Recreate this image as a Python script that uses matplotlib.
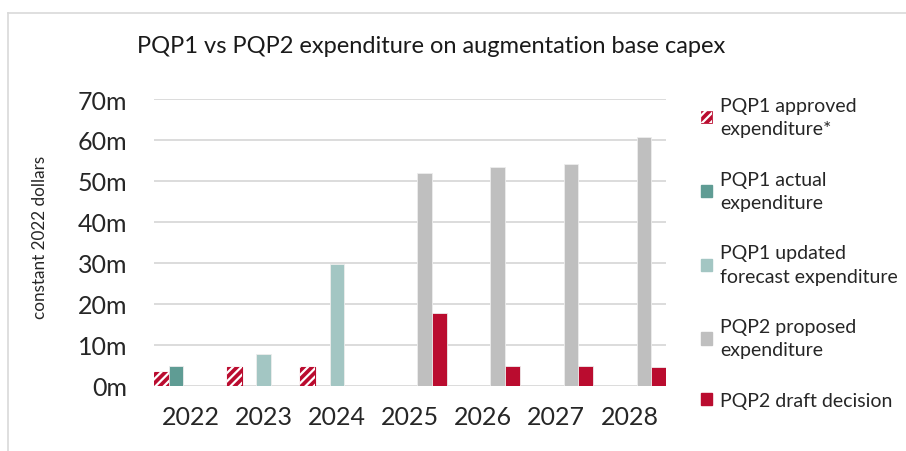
import matplotlib.pyplot as plt
import matplotlib.patches as mpatches
from matplotlib.legend_handler import HandlerTuple
import numpy as np

plt.rcParams['font.family'] = ['Lato', 'DejaVu Sans']
plt.rcParams['hatch.linewidth'] = 1.6

years = ['2022', '2023', '2024', '2025', '2026', '2027', '2028']
nan = np.nan
approved = [3.4, 4.5, 4.5, nan, nan, nan, nan]
actual = [4.7, nan, nan, nan, nan, nan, nan]
updated = [nan, 7.7, 29.8, nan, nan, nan, nan]
proposed = [nan, nan, nan, 52.0, 53.5, 54.1, 60.6]
draft = [nan, nan, nan, 17.8, 4.9, 4.9, 4.6]

red = '#BA0C2F'
teal = '#5F9C94'
lteal = '#A3C6C3'
grey = '#BFBFBF'

fig = plt.figure(figsize=(9.06, 4.52), dpi=100)
ax = fig.add_axes([154/906, 1-386.7/452, (666-154)/906, (386.7-100)/452])

x = np.arange(len(years))
w = 0.2

# hatched approved bars: red fill, white stripes on top
ax.bar(x - 2*w, approved, w, color=red, edgecolor=red, linewidth=0.8, zorder=2)
ax.bar(x - 2*w, approved, w, color='none', edgecolor='white', hatch='////', linewidth=0, zorder=3)
ax.bar(x - w, actual, w, color=teal, edgecolor='#EDEDED', linewidth=0.6, zorder=2)
ax.bar(x, updated, w, color=lteal, edgecolor='#EDEDED', linewidth=0.6, zorder=2)
ax.bar(x + w, proposed, w, color=grey, edgecolor='#EDEDED', linewidth=0.6, zorder=2)
ax.bar(x + 2*w, draft, w, color=red, edgecolor='#EDEDED', linewidth=0.6, zorder=2)

ax.set_xlim(-0.5, 6.5)
ax.set_ylim(0, 70)
ax.set_yticks(range(0, 71, 10))
ax.set_yticklabels([f'{v}m' for v in range(0, 71, 10)])
ax.set_xticks(x)
ax.set_xticklabels(years)
ax.tick_params(axis='y', length=0, pad=19, labelsize=18, labelcolor='#262626')
ax.tick_params(axis='x', length=0, pad=14, labelsize=18, labelcolor='#262626')
ax.grid(axis='y', color='#D9D9D9', linewidth=1.3, zorder=0)
ax.set_axisbelow(True)
for s in ax.spines.values():
    s.set_visible(False)

ax.set_ylabel('constant 2022 dollars', fontsize=12.3, color='#262626')
ax.yaxis.set_label_coords(-0.207, 0.522)

fig.text(0.476, 0.898, 'PQP1 vs PQP2 expenditure on augmentation base capex',
         ha='center', va='center', fontsize=17.0, color='#1a1a1a')

# legend
h_app = (mpatches.Patch(facecolor=red, edgecolor=red, linewidth=0.5),
         mpatches.Patch(facecolor='none', edgecolor='white', hatch='////', linewidth=0))
handles = [h_app,
           mpatches.Patch(color=teal),
           mpatches.Patch(color=lteal),
           mpatches.Patch(color=grey),
           mpatches.Patch(color=red)]
labels = ['PQP1 approved\nexpenditure*', 'PQP1 actual\nexpenditure',
          'PQP1 updated\nforecast expenditure', 'PQP2 proposed\nexpenditure',
          'PQP2 draft decision']
leg = fig.legend(handles, labels, loc='upper left', bbox_to_anchor=(0.754, 0.822),
                 frameon=False, fontsize=14, handlelength=0.6, handleheight=0.6,
                 handletextpad=0.4, labelspacing=1.72, labelcolor='#262626',
                 handler_map={tuple: HandlerTuple(ndivide=1, pad=0)})
for t in leg.get_texts():
    t.set_linespacing(1.45)

# outer chart border (left and top visible)
fig.add_artist(plt.Line2D([8/906, 8/906], [0, 1-14/452], color='#D9D9D9', lw=1.2))
fig.add_artist(plt.Line2D([8/906, 1], [1-14/452, 1-14/452], color='#D9D9D9', lw=1.2))

fig.savefig('out.png', dpi=100)
